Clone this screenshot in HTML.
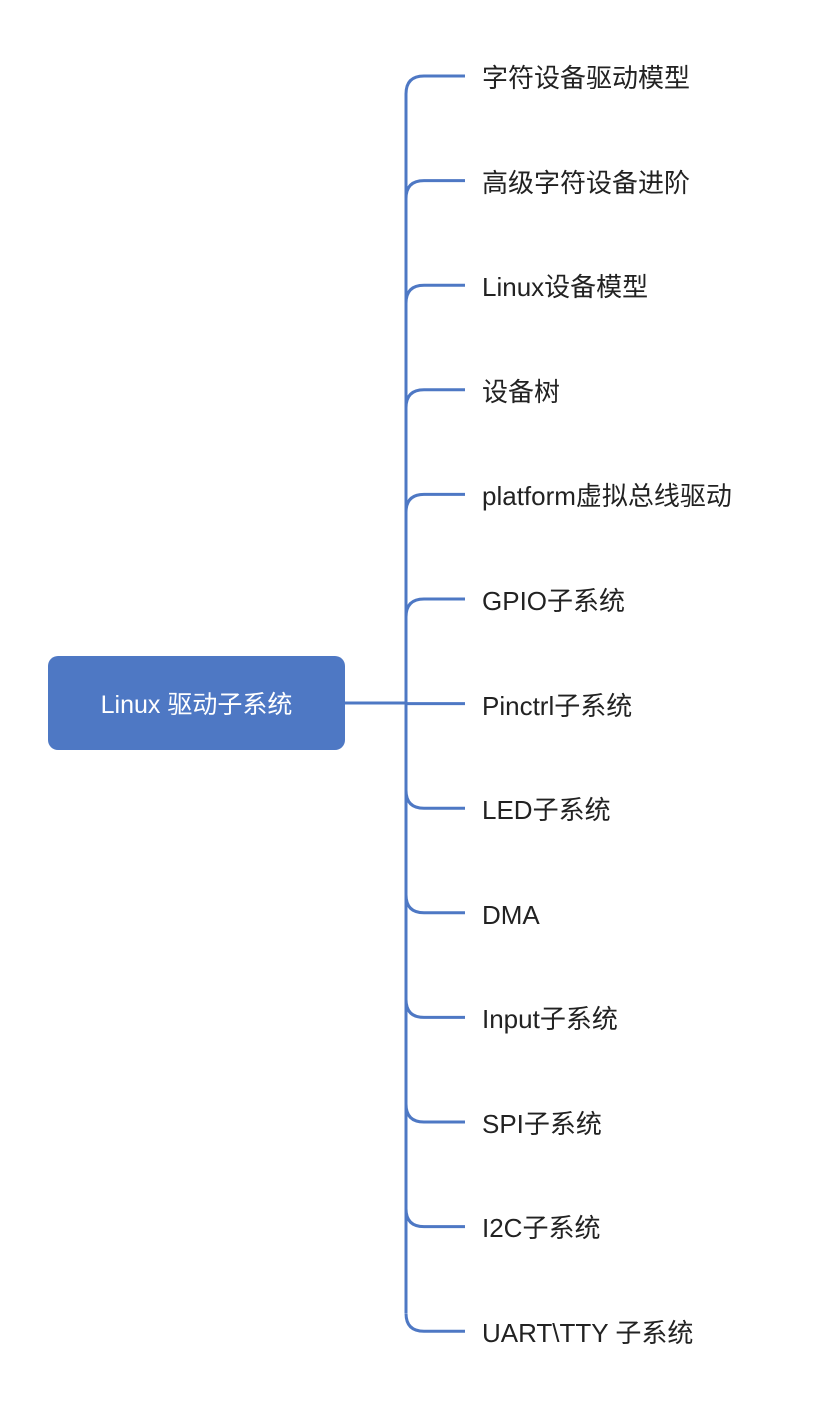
<!DOCTYPE html>
<html><head><meta charset="utf-8"><style>
body{margin:0;background:#fff;width:828px;height:1408px;position:relative;overflow:hidden;font-family:"Liberation Sans","Noto Sans CJK SC",sans-serif;}
.root{position:absolute;left:48px;top:656px;width:297px;height:94px;background:#4E78C4;border-radius:10px;color:#fff;font-size:25px;display:flex;align-items:center;justify-content:center;}
.t{position:absolute;left:482px;font-size:26px;color:#222;line-height:30px;white-space:nowrap;}
</style></head><body>
<svg width="828" height="1408" style="position:absolute;left:0;top:0" fill="none" stroke="#4E78C4" stroke-width="3">
<path d="M345 703 H406"/>
<path d="M406 94 V1313"/>
<g id="b"></g>
<path d="M406 94 Q406 76 424 76 H465"/>
<path d="M406 198.6 Q406 180.6 424 180.6 H465"/>
<path d="M406 303.2 Q406 285.2 424 285.2 H465"/>
<path d="M406 407.8 Q406 389.8 424 389.8 H465"/>
<path d="M406 512.4 Q406 494.4 424 494.4 H465"/>
<path d="M406 617 Q406 599 424 599 H465"/>
<path d="M406 703.6 H465"/>
<path d="M406 790.2 Q406 808.2 424 808.2 H465"/>
<path d="M406 894.8 Q406 912.8 424 912.8 H465"/>
<path d="M406 999.4 Q406 1017.4 424 1017.4 H465"/>
<path d="M406 1104 Q406 1122 424 1122 H465"/>
<path d="M406 1208.6 Q406 1226.6 424 1226.6 H465"/>
<path d="M406 1313.2 Q406 1331.2 424 1331.2 H465"/>
</svg>
<div class="root">Linux 驱动子系统</div>
<div class="t" style="top:63px">字符设备驱动模型</div>
<div class="t" style="top:168px">高级字符设备进阶</div>
<div class="t" style="top:272px">Linux设备模型</div>
<div class="t" style="top:377px">设备树</div>
<div class="t" style="top:481px">platform虚拟总线驱动</div>
<div class="t" style="top:586px">GPIO子系统</div>
<div class="t" style="top:691px">Pinctrl子系统</div>
<div class="t" style="top:795px">LED子系统</div>
<div class="t" style="top:900px">DMA</div>
<div class="t" style="top:1004px">Input子系统</div>
<div class="t" style="top:1109px">SPI子系统</div>
<div class="t" style="top:1213px">I2C子系统</div>
<div class="t" style="top:1318px">UART\TTY 子系统</div>
</body></html>
